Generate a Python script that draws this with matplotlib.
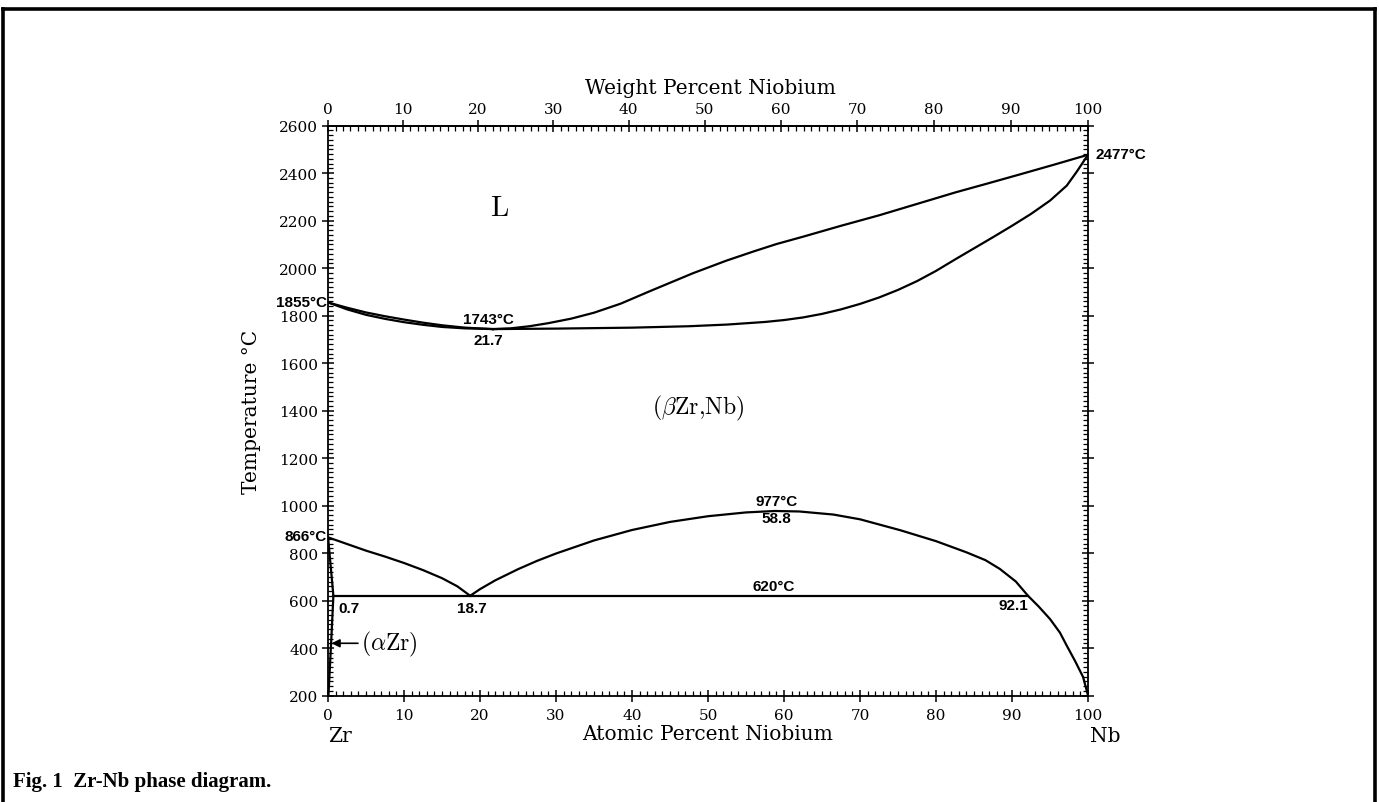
import numpy as np
import matplotlib
matplotlib.use('Agg')
import matplotlib.pyplot as plt
import matplotlib.ticker as ticker
from matplotlib.lines import Line2D

# Zr-Nb phase diagram
##===================================================================
# liquidus / solidus, Zr side of the congruent minimum
liq_left_x = [0, 2.5, 5, 7.5, 10, 12.5, 15, 18, 21.7]
liq_left_t = [1855, 1833, 1813, 1797, 1783, 1770, 1759, 1749, 1743]
sol_left_x = [0, 2.5, 5, 7.5, 10, 12.5, 15, 18, 21.7]
sol_left_t = [1855, 1826, 1803, 1786, 1772, 1761, 1752, 1746, 1743]

# liquidus / solidus, Nb side
liq_right_x = [21.7, 24, 26.5, 29, 32, 35, 38.5, 42.3, 45, 48, 52.4, 56, 59, 62.5,
               67.5, 72.5, 77.5, 82.6, 87, 91, 95.5, 100]
liq_right_t = [1743, 1746, 1755, 1768, 1787, 1812, 1850, 1902, 1938, 1978, 2031, 2070, 2101, 2132,
               2178, 2222, 2270, 2319, 2358, 2394, 2435, 2477]
sol_right_x = [21.7, 30, 40, 47.5, 52.5, 57.5, 60, 62.5, 65, 67.5, 70, 72.5, 75, 77.5,
               80, 82.6, 85, 87.5, 90, 92.5, 95, 97.2, 98.5, 100]
sol_right_t = [1743, 1745, 1749, 1755, 1762, 1773, 1781, 1792, 1807, 1826, 1849, 1876, 1908, 1945,
               1988, 2038, 2083, 2130, 2178, 2228, 2284, 2347, 2405, 2477]

# beta transus down to the monotectoid point
transus_x = [0, 2.5, 5, 7.5, 10, 12.5, 15, 17, 18.7]
transus_t = [866, 838, 810, 785, 758, 728, 694, 660, 620]

# miscibility gap and Nb-rich solvus
dome_x = [18.7, 20, 22, 25, 27.5, 30, 35, 40, 45, 50, 55, 58.8, 62, 66.5, 70, 75.3,
          80, 84, 86.5, 88.4, 90.5, 92.1, 93.5, 95, 96.3, 97.2, 98.3, 99.35, 100]
dome_t = [620, 648, 685, 732, 767, 798, 853, 897, 931, 955, 971, 977, 975, 962, 942, 896,
          850, 803, 770, 733, 680, 620, 575, 522, 465, 410, 345, 278, 200]

# (alpha Zr) boundaries
alpha_x = [0, 0.7, 0.4, 0.05]
alpha_t = [866, 620, 420, 200]

# monotectoid horizontal
mono_x = [0.7, 92.1]
mono_t = [620, 620]

M_ZR = 91.224
M_NB = 92.906


def at_to_wt(a):
    a = np.asarray(a, dtype=float)
    return 100 * a * M_NB / (a * M_NB + (100 - a) * M_ZR)


def wt_to_at(w):
    w = np.asarray(w, dtype=float)
    return 100 * (w / M_NB) / (w / M_NB + (100 - w) / M_ZR)


##===================================================================
plt.rcParams['mathtext.fontset'] = 'cm'
plt.rcParams['font.family'] = 'DejaVu Serif'

fig = plt.figure(figsize=(13.79, 8.03), dpi=100)
ax = fig.add_axes([0.2379, 0.1326, 0.5511, 0.7098])

lw = 1.6
ax.plot(liq_left_x, liq_left_t, color='black', lw=lw)
ax.plot(sol_left_x, sol_left_t, color='black', lw=lw)
ax.plot(liq_right_x, liq_right_t, color='black', lw=lw)
ax.plot(sol_right_x, sol_right_t, color='black', lw=lw)
ax.plot(transus_x, transus_t, color='black', lw=lw)
ax.plot(dome_x, dome_t, color='black', lw=lw)
ax.plot(alpha_x, alpha_t, color='black', lw=lw)
ax.plot(mono_x, mono_t, color='black', lw=lw)

ax.set_xlim(0, 100)
ax.set_ylim(200, 2600)
ax.xaxis.set_major_locator(ticker.MultipleLocator(10))
ax.xaxis.set_minor_locator(ticker.MultipleLocator(1))
ax.yaxis.set_major_locator(ticker.MultipleLocator(200))
ax.yaxis.set_minor_locator(ticker.MultipleLocator(20))
ax.tick_params(which='major', direction='inout', length=8, width=1.1,
               labelsize=11, top=False, right=True, pad=5)
ax.tick_params(which='minor', direction='in', length=3.5, width=0.9,
               top=False, right=True)
ax.tick_params(axis='y', which='major', pad=3)
for s in ax.spines.values():
    s.set_linewidth(1.3)

sec = ax.secondary_xaxis('top', functions=(at_to_wt, wt_to_at))
sec.xaxis.set_major_locator(ticker.MultipleLocator(10))
sec.xaxis.set_minor_locator(ticker.MultipleLocator(1))
sec.tick_params(which='major', direction='inout', length=8, width=1.1,
                labelsize=11, pad=3)
sec.tick_params(which='minor', direction='in', length=3.5, width=0.9)
sec.spines['top'].set_linewidth(1.3)

# phase labels
ax.text(22.6, 2257, r'$\mathrm{L}$', fontsize=21, ha='center', va='center')
ax.text(48.7, 1415, r'$(\beta\mathrm{Zr{,}Nb})$', fontsize=17, ha='center', va='center')
ax.annotate(r'$(\alpha\mathrm{Zr})$', xy=(0.45, 420), xytext=(4.3, 420),
            fontsize=17, ha='left', va='center',
            arrowprops=dict(arrowstyle='-|>', color='black', lw=1.2,
                            mutation_scale=12, shrinkA=0, shrinkB=0))

# point annotations
note = dict(family='Liberation Sans', weight='bold', fontsize=11)
ax.text(-0.2, 1858, '1855°C', ha='right', va='center', **note)
ax.text(21.1, 1785, '1743°C', ha='center', va='center', **note)
ax.text(21.1, 1696, '21.7', ha='center', va='center', **note)
ax.text(101.0, 2480, '2477°C', ha='left', va='center', **note)
ax.text(-0.2, 873, '866°C', ha='right', va='center', **note)
ax.text(1.3, 570, '0.7', ha='left', va='center', **note)
ax.text(18.9, 570, '18.7', ha='center', va='center', **note)
ax.text(59.0, 1018, '977°C', ha='center', va='center', **note)
ax.text(59.0, 946, '58.8', ha='center', va='center', **note)
ax.text(58.7, 660, '620°C', ha='center', va='center', **note)
ax.text(90.2, 581, '92.1', ha='center', va='center', **note)

# axis titles
title_font = dict(family='DejaVu Serif', fontsize=14.5)
fig.text(0.5149, 0.8904, 'Weight Percent Niobium', ha='center', va='center', **title_font)
fig.text(0.5134, 0.0847, 'Atomic Percent Niobium', ha='center', va='center', **title_font)
fig.text(0.1827, 0.4876, 'Temperature °C', ha='center', va='center',
         rotation='vertical', **title_font)
fig.text(0.2379, 0.0822, 'Zr', ha='left', va='center', **title_font)
fig.text(0.7905, 0.0822, 'Nb', ha='left', va='center', **title_font)

# caption
fig.text(0.0094, 0.0199, 'Fig. 1  Zr-Nb phase diagram.', ha='left', va='baseline',
         family='Liberation Serif', weight='bold', fontsize=15)

# page frame
frame_x_left = 3 / 1379
frame_x_right = 1375 / 1379
frame_top = 1 - 10 / 803
fig.add_artist(Line2D([frame_x_left, frame_x_left], [0, frame_top], color='black', lw=2.6))
fig.add_artist(Line2D([frame_x_left, frame_x_right], [frame_top, frame_top], color='black', lw=2.6))
fig.add_artist(Line2D([frame_x_right, frame_x_right], [frame_top, 0], color='black', lw=2.6))

plt.savefig('out.png', dpi=100)
